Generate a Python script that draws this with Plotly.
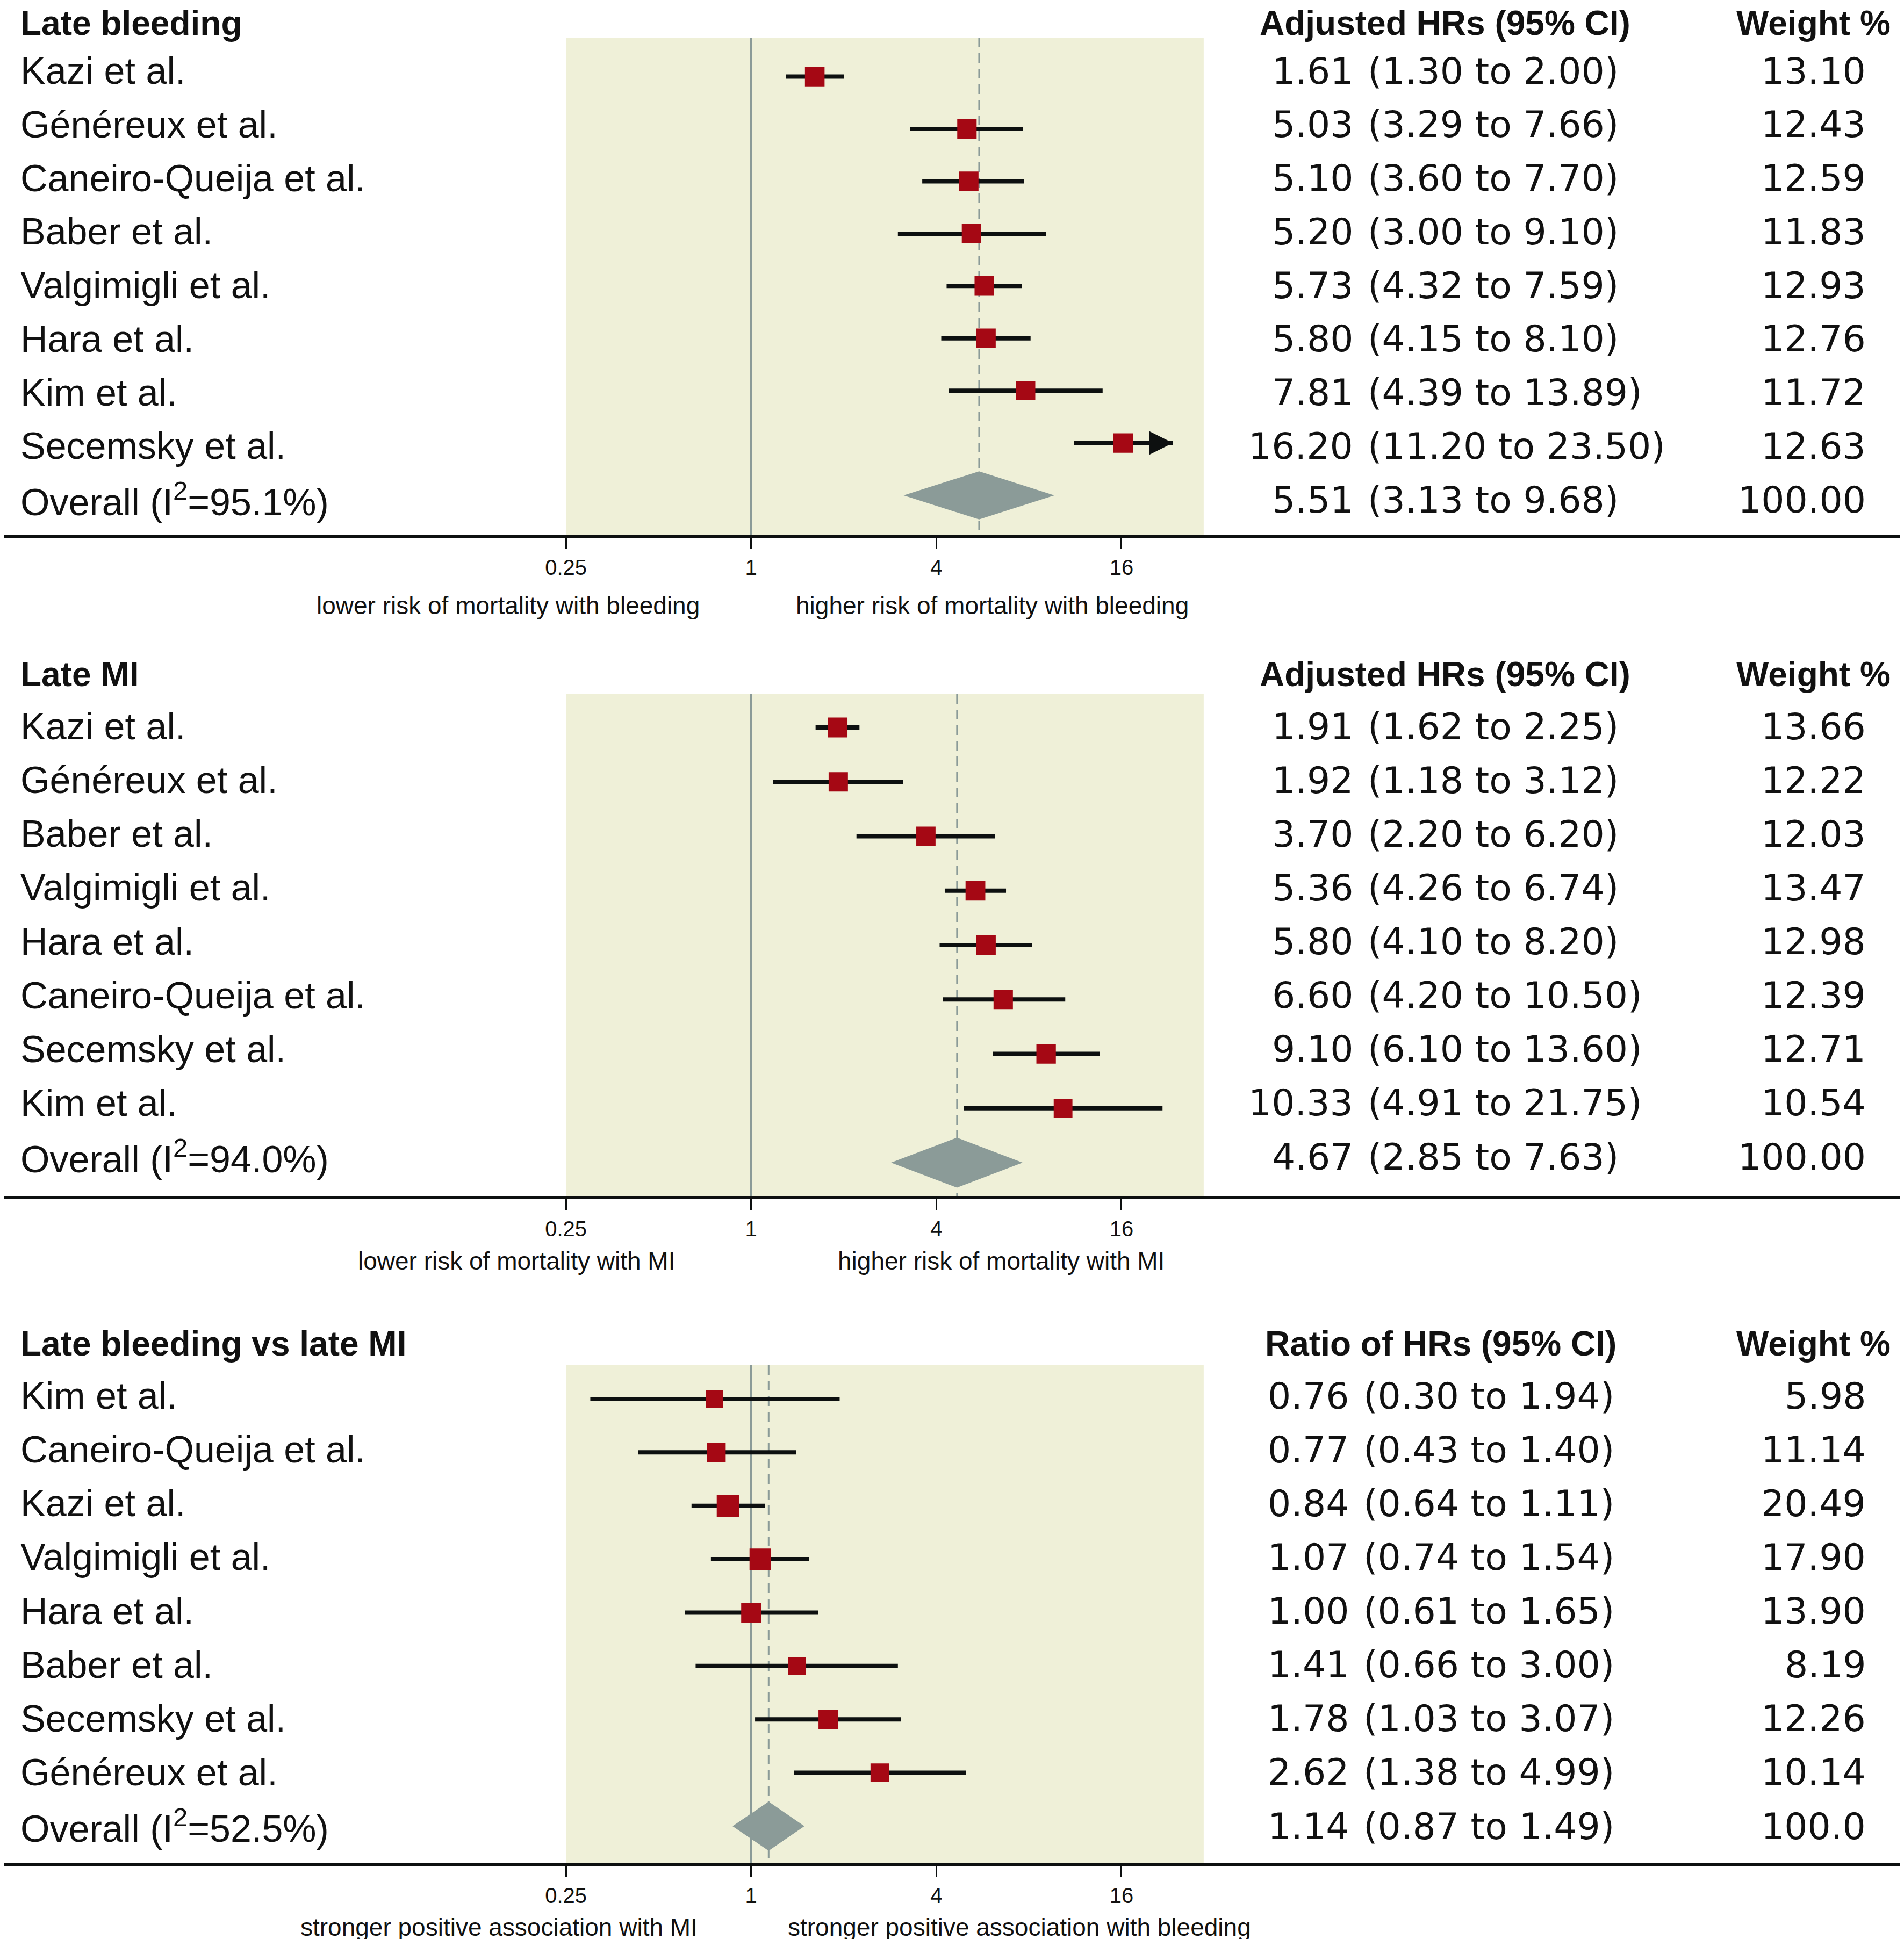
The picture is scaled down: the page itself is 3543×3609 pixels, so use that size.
import math
import plotly.graph_objects as go

W, H = 3543, 3609

# ---------------- data ----------------
titles = ["Late bleeding", "Late MI", "Late bleeding vs late MI"]
est_headers = ["Adjusted HRs (95% CI)", "Adjusted HRs (95% CI)", "Ratio of HRs (95% CI)"]
weight_header = "Weight %"

studies1 = ["Kazi et al.", "Généreux et al.", "Caneiro-Queija et al.", "Baber et al.",
            "Valgimigli et al.", "Hara et al.", "Kim et al.", "Secemsky et al."]
hr1 = [1.61, 5.03, 5.10, 5.20, 5.73, 5.80, 7.81, 16.20]
lo1 = [1.30, 3.29, 3.60, 3.00, 4.32, 4.15, 4.39, 11.20]
hi1 = [2.00, 7.66, 7.70, 9.10, 7.59, 8.10, 13.89, 23.50]
w1 = [13.10, 12.43, 12.59, 11.83, 12.93, 12.76, 11.72, 12.63]
arrow1 = [0, 0, 0, 0, 0, 0, 0, 1]

studies2 = ["Kazi et al.", "Généreux et al.", "Baber et al.", "Valgimigli et al.",
            "Hara et al.", "Caneiro-Queija et al.", "Secemsky et al.", "Kim et al."]
hr2 = [1.91, 1.92, 3.70, 5.36, 5.80, 6.60, 9.10, 10.33]
lo2 = [1.62, 1.18, 2.20, 4.26, 4.10, 4.20, 6.10, 4.91]
hi2 = [2.25, 3.12, 6.20, 6.74, 8.20, 10.50, 13.60, 21.75]
w2 = [13.66, 12.22, 12.03, 13.47, 12.98, 12.39, 12.71, 10.54]
arrow2 = [0, 0, 0, 0, 0, 0, 0, 0]

studies3 = ["Kim et al.", "Caneiro-Queija et al.", "Kazi et al.", "Valgimigli et al.",
            "Hara et al.", "Baber et al.", "Secemsky et al.", "Généreux et al."]
hr3 = [0.76, 0.77, 0.84, 1.07, 1.00, 1.41, 1.78, 2.62]
lo3 = [0.30, 0.43, 0.64, 0.74, 0.61, 0.66, 1.03, 1.38]
hi3 = [1.94, 1.40, 1.11, 1.54, 1.65, 3.00, 3.07, 4.99]
w3 = [5.98, 11.14, 20.49, 17.90, 13.90, 8.19, 12.26, 10.14]
arrow3 = [0, 0, 0, 0, 0, 0, 0, 0]

overall_est = [5.51, 4.67, 1.14]
overall_lo = [3.13, 2.85, 0.87]
overall_hi = [9.68, 7.63, 1.49]
overall_i2 = ["95.1", "94.0", "52.5"]
overall_weight = ["100.00", "100.00", "100.0"]

left_notes = ["lower risk of mortality with bleeding", "lower risk of mortality with MI",
              "stronger positive association with MI"]
right_notes = ["higher risk of mortality with bleeding", "higher risk of mortality with MI",
               "stronger positive association with bleeding"]

tick_vals = [0.25, 1, 4, 16]
tick_text = ["0.25", "1", "4", "16"]
shade_range = [0.25, 29.6]
null_value = 1

# ---------------- styling / layout constants ----------------
RED = "rgb(165,8,20)"
GRAY = "rgb(139,155,152)"
SHADE = "rgb(239,240,216)"
INK = "rgb(13,16,16)"
TXT = "rgb(17,17,17)"
BODY = "Liberation Sans, Arial, sans-serif"
NUM = "DejaVu Sans, Liberation Sans, sans-serif"
HEAD = "Liberation Sans, Arial, sans-serif"

XRANGE = [-2.428, 3.762]  # log10 range spanning the full width

# pixel layout of each panel (full-size pixels from the top)
panels_px = [
    dict(header=35, mrow1=134.6, mrow9=914, trow1=124, trow9=922, top=62, axis=990,
         sub=1119, lend=1296, rstart=1471, dx=0),
    dict(header=1247, mrow1=1346, mrow9=2156, trow1=1344, trow9=2145, top=1284, axis=2221,
         sub=2339, lend=1250, rstart=1549, dx=0),
    dict(header=2493, mrow1=2596, mrow9=3391, trow1=2590, trow9=3391, top=2533, axis=3462,
         sub=3579, lend=1292, rstart=1456, dx=-8),
]

NAME_X = 28
EST_RIGHT = 2512
CI_LEFT = 2535
HEAD_CENTER = 2681
W_RIGHT = 3466
WH_RIGHT = 3512

panels = [
    (studies1, hr1, lo1, hi1, w1, arrow1),
    (studies2, hr2, lo2, hi2, w2, arrow2),
    (studies3, hr3, lo3, hi3, w3, arrow3),
]

fig = go.Figure()
annotations = []
layout_axes = {}

for i, (studies, hr, lo, hi, wt, arr) in enumerate(panels):
    P = panels_px[i]
    sp = (P["mrow9"] - P["mrow1"]) / 8.0

    def row(p, P=P, sp=sp):
        return 1 + (p - P["mrow1"]) / sp

    tsp = (P["trow9"] - P["trow1"]) / 8.0

    def trow(k, P=P, tsp=tsp):
        # text row k (1..9) expressed on the marker-row scale
        return row(P["trow1"] + (k - 1) * tsp)

    top_px = max(0, P["header"] - 45)
    axis_px = P["axis"] - 3
    r_bot = row(axis_px)
    r_top = row(top_px)
    r_shade = row(P["top"])
    xa = "x" if i == 0 else f"x{i+1}"
    ya = "y" if i == 0 else f"y{i+1}"
    xk = "xaxis" if i == 0 else f"xaxis{i+1}"
    yk = "yaxis" if i == 0 else f"yaxis{i+1}"

    layout_axes[xk] = dict(
        type="log", range=XRANGE, domain=[0, 1], anchor=ya,
        tickvals=tick_vals, ticktext=tick_text, ticks="outside", ticklen=21,
        tickwidth=3, tickcolor=INK, showline=True, linewidth=6, linecolor=INK,
        showgrid=False, zeroline=False, fixedrange=True,
        tickfont=dict(family=BODY, size=40, color=TXT),
    )
    layout_axes[yk] = dict(
        range=[r_bot, r_top], domain=[1 - axis_px / H, 1 - top_px / H], anchor=xa,
        visible=False, fixedrange=True,
    )

    n = len(studies)
    rows = list(range(1, n + 1))
    orow = n + 1

    # shaded band
    fig.add_trace(go.Scatter(
        x=[shade_range[0], shade_range[1], shade_range[1], shade_range[0], shade_range[0]],
        y=[r_shade, r_shade, r_bot, r_bot, r_shade], fill="toself", fillcolor=SHADE,
        mode="lines", line=dict(width=0, color=SHADE), xaxis=xa, yaxis=ya,
        hoverinfo="skip", showlegend=False))
    # dashed overall line
    fig.add_trace(go.Scatter(
        x=[overall_est[i], overall_est[i]], y=[r_shade, r_bot], mode="lines",
        line=dict(color=GRAY, width=3, dash="18px,11px"), xaxis=xa, yaxis=ya,
        hoverinfo="skip", showlegend=False))
    # diamond
    dh = 0.46
    fig.add_trace(go.Scatter(
        x=[overall_lo[i], overall_est[i], overall_hi[i], overall_est[i], overall_lo[i]],
        y=[orow, orow - dh, orow, orow + dh, orow], fill="toself", fillcolor=GRAY,
        mode="lines", line=dict(width=0, color=GRAY), xaxis=xa, yaxis=ya,
        hoverinfo="skip", showlegend=False))
    # null line
    fig.add_trace(go.Scatter(
        x=[null_value, null_value], y=[r_shade, r_bot], mode="lines",
        line=dict(color=GRAY, width=3.5), xaxis=xa, yaxis=ya,
        hoverinfo="skip", showlegend=False))
    # CI lines
    cx, cy = [], []
    for k in range(n):
        cx += [lo[k], hi[k], None]
        cy += [rows[k], rows[k], None]
    fig.add_trace(go.Scatter(
        x=cx, y=cy, mode="lines", line=dict(color=INK, width=8), xaxis=xa, yaxis=ya,
        hoverinfo="skip", showlegend=False))
    # markers
    fig.add_trace(go.Scatter(
        x=hr, y=rows, mode="markers",
        marker=dict(symbol="square", color=RED, size=[28 + 0.65 * v for v in wt],
                    opacity=1, line=dict(width=0)),
        xaxis=xa, yaxis=ya, hoverinfo="skip", showlegend=False))
    # arrowheads for truncated CIs (head only, tip on the upper limit)
    for k in range(n):
        if arr[k]:
            xe = math.log10(hi[k])
            annotations.append(dict(
                x=xe, y=rows[k], ax=xe - 0.06, ay=rows[k],
                xref=xa, yref=ya, axref=xa, ayref=ya, showarrow=True, arrowhead=2,
                arrowsize=1.1, arrowwidth=8, arrowcolor=INK, standoff=0, text=""))

    # headers
    hrow = row(P["header"])
    hfont = dict(family=HEAD, size=64, color=TXT, weight="bold")
    annotations.append(dict(x=NAME_X / W, y=hrow, xref="paper", yref=ya, text=titles[i],
                            xanchor="left", yanchor="middle", showarrow=False, font=hfont))
    annotations.append(dict(x=(HEAD_CENTER + P["dx"]) / W, y=hrow, xref="paper", yref=ya,
                            text=est_headers[i], xanchor="center", yanchor="middle",
                            showarrow=False, font=hfont))
    annotations.append(dict(x=WH_RIGHT / W, y=hrow, xref="paper", yref=ya,
                            text=weight_header, xanchor="right", yanchor="middle",
                            showarrow=False, font=hfont))

    body = dict(family=BODY, size=70, color=TXT)
    num = dict(family=NUM, size=68, color=TXT)
    names = list(studies) + [f"Overall (I<sup>2</sup>={overall_i2[i]}%)"]
    ests = list(hr) + [overall_est[i]]
    los = list(lo) + [overall_lo[i]]
    his = list(hi) + [overall_hi[i]]
    wts = [f"{v:.2f}" for v in wt] + [overall_weight[i]]
    for k in range(n + 1):
        r = trow(k + 1)
        annotations.append(dict(x=NAME_X / W, y=r, xref="paper", yref=ya, text=names[k],
                                xanchor="left", yanchor="middle", showarrow=False, font=body))
        annotations.append(dict(x=(EST_RIGHT + P["dx"]) / W, y=r, xref="paper", yref=ya,
                                text=f"{ests[k]:.2f}", xanchor="right", yanchor="middle",
                                showarrow=False, font=num))
        annotations.append(dict(x=(CI_LEFT + P["dx"]) / W, y=r, xref="paper", yref=ya,
                                text=f"({los[k]:.2f} to {his[k]:.2f})", xanchor="left",
                                yanchor="middle", showarrow=False, font=num))
        annotations.append(dict(x=W_RIGHT / W, y=r, xref="paper", yref=ya, text=wts[k],
                                xanchor="right", yanchor="middle", showarrow=False, font=num))

    # favours labels
    sub = dict(family=BODY, size=46, color=TXT)
    annotations.append(dict(x=P["lend"] / W, y=1 - P["sub"] / H, xref="paper", yref="paper",
                            text=left_notes[i], xanchor="right", yanchor="middle",
                            showarrow=False, font=sub))
    annotations.append(dict(x=P["rstart"] / W, y=1 - P["sub"] / H, xref="paper", yref="paper",
                            text=right_notes[i], xanchor="left", yanchor="middle",
                            showarrow=False, font=sub))

fig.update_layout(
    width=W, height=H,
    margin=dict(l=0, r=0, t=0, b=0, pad=0),
    paper_bgcolor="white", plot_bgcolor="white",
    showlegend=False, annotations=annotations,
    **layout_axes,
)

fig.write_html("out.html", config={"displayModeBar": False})
